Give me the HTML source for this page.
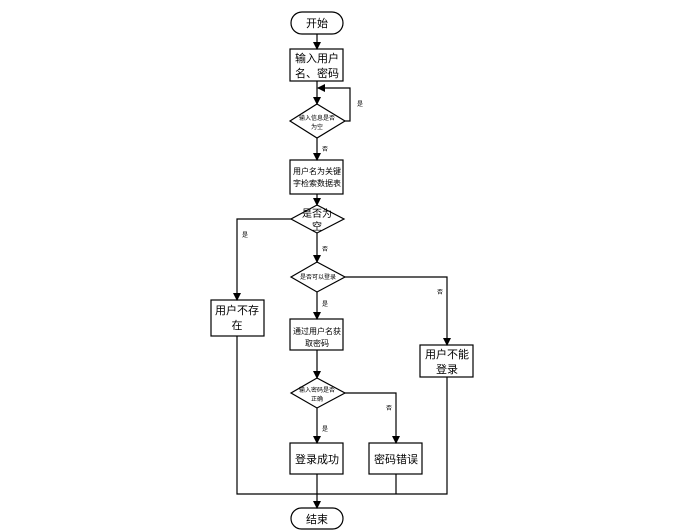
<!DOCTYPE html>
<html><head><meta charset="utf-8"><style>
html,body{margin:0;padding:0;background:#fff;width:676px;height:532px;overflow:hidden}
text{font-family:"Liberation Sans","Noto Sans CJK SC",sans-serif;fill:#000}
</style></head><body>
<svg width="676" height="532" viewBox="0 0 676 532" xmlns="http://www.w3.org/2000/svg">
<defs><marker id="a" markerWidth="8" markerHeight="8" refX="7" refY="4" orient="auto" markerUnits="userSpaceOnUse"><path d="M0,0 L8,4 L0,8 z" fill="#000"/></marker></defs>
<g stroke="#000" stroke-width="1.2" fill="none">
<rect x="291" y="12" width="52" height="22" rx="11" fill="#fff"/>
<rect x="290" y="49" width="53" height="32" fill="#fff"/>
<polygon points="317,104 345,121 317,138 290,121" fill="#fff"/>
<rect x="290" y="160" width="53" height="34" fill="#fff"/>
<polygon points="317,205 344,219 317,233 291,219" fill="#fff"/>
<polygon points="317,262 345,277 317,292 291,277" fill="#fff"/>
<rect x="290" y="319" width="53" height="31" fill="#fff"/>
<polygon points="317,378 345,393 317,408 291,393" fill="#fff"/>
<rect x="290" y="443" width="53" height="31" fill="#fff"/>
<rect x="369" y="443" width="53" height="31" fill="#fff"/>
<rect x="211" y="300" width="53" height="36" fill="#fff"/>
<rect x="420" y="345" width="53" height="32" fill="#fff"/>
<rect x="291" y="508" width="52" height="21" rx="10.5" fill="#fff"/>
<line x1="317" y1="34" x2="317" y2="49" marker-end="url(#a)"/>
<line x1="317" y1="81" x2="317" y2="104" marker-end="url(#a)"/>
<polyline points="345,121 350,121 350,88 318,88" marker-end="url(#a)"/>
<line x1="317" y1="138" x2="317" y2="160" marker-end="url(#a)"/>
<line x1="317" y1="194" x2="317" y2="205" marker-end="url(#a)"/>
<polyline points="291,219 237,219 237,300" marker-end="url(#a)"/>
<line x1="317" y1="233" x2="317" y2="262" marker-end="url(#a)"/>
<polyline points="345,277 447,277 447,345" marker-end="url(#a)"/>
<line x1="317" y1="292" x2="317" y2="319" marker-end="url(#a)"/>
<line x1="317" y1="350" x2="317" y2="378" marker-end="url(#a)"/>
<polyline points="345,393 396,393 396,443" marker-end="url(#a)"/>
<line x1="317" y1="408" x2="317" y2="443" marker-end="url(#a)"/>
<polyline points="237,336 237,494 447,494 447,377"/>
<line x1="396" y1="474" x2="396" y2="494"/>
<line x1="317" y1="474" x2="317" y2="508" marker-end="url(#a)"/>
</g>
<g font-size="11" text-anchor="middle">
<text x="317" y="27">开始</text>
<text x="317" y="62">输入用户</text>
<text x="317" y="77">名、密码</text>
<text x="317" y="174" font-size="8">用户名为关键</text>
<text x="317" y="186" font-size="8">字检索数据表</text>
<text x="317" y="217" font-size="10">是否为</text>
<text x="317" y="230" font-size="10">空</text>
<text x="317" y="334" font-size="8">通过用户名获</text>
<text x="317" y="346" font-size="8">取密码</text>
<text x="317" y="463">登录成功</text>
<text x="396" y="463">密码错误</text>
<text x="237" y="314">用户不存</text>
<text x="237" y="329">在</text>
<text x="447" y="358">用户不能</text>
<text x="447" y="373">登录</text>
<text x="317" y="523">结束</text>
</g>
<g font-size="6" text-anchor="middle">
<text x="317" y="120">输入信息是否</text>
<text x="317" y="129">为空</text>
<text x="318" y="279">是否可以登录</text>
<text x="317" y="392">输入密码是否</text>
<text x="317" y="401">正确</text>
<text x="360" y="106">是</text>
<text x="325" y="151">否</text>
<text x="245" y="237">是</text>
<text x="325" y="251">否</text>
<text x="440" y="294">否</text>
<text x="325" y="306">是</text>
<text x="389" y="410">否</text>
<text x="325" y="431">是</text>
</g>
</svg>
</body></html>
